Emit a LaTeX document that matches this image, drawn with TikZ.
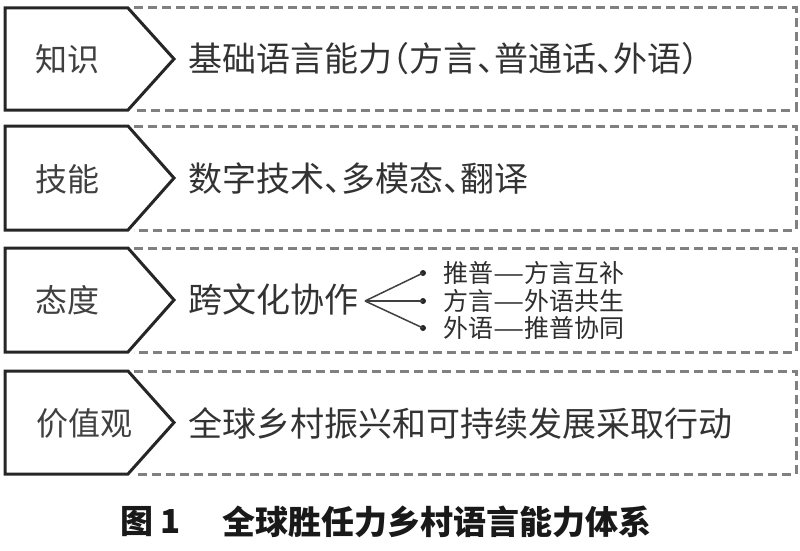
\documentclass[tikz,border=0pt]{standalone}
\usepackage{fontspec}
\usepackage{graphicx}
\setmainfont{Noto Sans CJK SC}
\newcommand{\hb}{\hspace{-0.5em}}
\newcommand{\ldash}{\scalebox{1.4}[1]{—}}
\begin{document}
\begin{tikzpicture}[x=1pt,y=-1pt,
  pent/.style={draw=black!85, line width=3pt, line join=miter, fill=white},
  dbox/.style={draw=black!50, line width=3pt, dash pattern=on 9pt off 5pt},
  lbl/.style={font=\fontsize{32}{34}\selectfont, text=black!75, anchor=west, inner sep=0pt},
  txt/.style={font=\fontsize{34}{36}\selectfont, text=black!80, anchor=west, inner sep=0pt},
  sml/.style={font=\fontsize{25}{27}\selectfont, text=black!82, anchor=west, inner sep=0pt},
  fan/.style={draw=black!75, line width=1.5pt},
  dot/.style={circle, fill=black!85, inner sep=0pt, minimum size=6pt},
  captxt/.style={font=\fontsize{33}{36}\selectfont\bfseries, text=black!90, anchor=west, inner sep=0pt}]
\useasboundingbox (0,0) rectangle (800,551);
\foreach \t/\b in {8/110, 126/230, 248/352, 371/474} {
  \draw[dbox] (134,\t) -- (796,\t) -- (796,\b) -- (134,\b);
  \draw[pent] (5,\t) -- (128,\t) -- (174,{(\t+\b)/2}) -- (128,\b) -- (5,\b) -- cycle;
}
% labels
\node[lbl] (l1) at (35,59) {知识};
\node[lbl] (l2) at (35,179) {技能};
\node[lbl] (l3) at (35,300) {态度};
\node[lbl] (l4) at (36,423) {价值观};
% contents
\node[txt] (t1) at (188,59) {基础语言能力\hb（方言、\hb 普通话、\hb 外语）};
\node[txt] (t2) at (188,179) {数字技术、\hb 多模态、\hb 翻译};
\node[txt] (t3) at (188,300) {跨文化协作};
\node[txt] (t4) at (188,423) {全球乡村振兴和可持续发展采取行动};
% fan
\coordinate (o) at (365,301);
\node[dot] (d1) at (423,273) {};
\node[dot] (d2) at (423,301) {};
\node[dot] (d3) at (423,328) {};
\draw[fan] (o) -- (d1.center);
\draw[fan] (o) -- (d2.center);
\draw[fan] (o) -- (d3.center);
\node[sml] (s1) at (443,273) {推普\ldash 方言互补};
\node[sml] (s2) at (443,301) {方言\ldash 外语共生};
\node[sml] (s3) at (443,328) {外语\ldash 推普协同};
% caption
\node[captxt] (c1) at (120,522) {图 1};
\node[captxt] (c2) at (222,522) {全球胜任力乡村语言能力体系};
\end{tikzpicture}
\end{document}
